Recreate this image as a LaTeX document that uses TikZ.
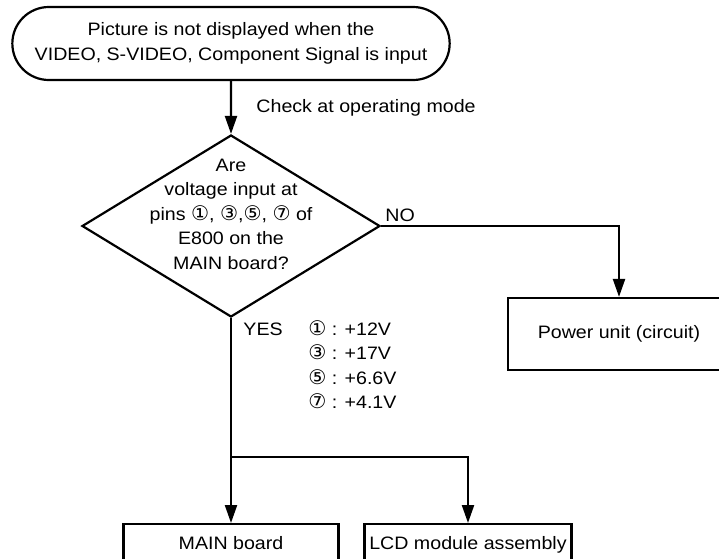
\documentclass[tikz,border=0pt]{standalone}
\usepackage{fontspec}
\setmainfont{Liberation Sans}[FakeStretch=1.09]
\newfontfamily\circfont{DejaVu Sans}[Scale=1.12]
\newcommand{\pin}[1]{{\circfont #1}}
\usetikzlibrary{arrows.meta,shapes.geometric,shapes.misc,positioning}

\begin{document}
\begin{tikzpicture}[x=1pt, y=-1pt, line width=2.2pt,
    >={Triangle[length=18pt,width=12pt]},
    font=\fontsize{18}{24.5}\selectfont,
    term/.style={rounded rectangle, draw, minimum width=444pt, minimum height=73pt, align=center},
    decision/.style={diamond, draw, minimum width=298pt, minimum height=182pt, inner sep=0pt},
    box/.style={rectangle, draw},
    lowbox/.style={rectangle, draw, anchor=north, text height=12pt, text depth=14pt, inner ysep=13pt}]
\clip (0,0) rectangle (719,558);
\useasboundingbox (0,0) rectangle (719,558);

\node[term] (start) at (231,43.5) {Picture is not displayed when the\\VIDEO, S-VIDEO, Component Signal is input};
\node[decision] (check) at (231,226) {};
\node[align=center] (ask) at (231,214) {Are\\voltage input at\\pins \pin{①}, \pin{③},\pin{⑤}, \pin{⑦} of\\E800 on the\\MAIN board?};
\node[anchor=west] (mode) at (252,108) {Check at operating mode};
\node[box, minimum width=222pt, minimum height=72pt] (power) at (619,334) {Power unit (circuit)};
\node[lowbox, minimum width=215pt] (main) at (231,523) {MAIN board};
\node[lowbox, minimum width=207pt] (lcd) at (468,523) {LCD module assembly};
\node[anchor=west] (no) at (381,215) {NO};
\node[anchor=west] (yes) at (239,329) {YES};
\node[anchor=north west, align=left] (volts) at (304,316)
  {\pin{①} : +12V\\\pin{③} : +17V\\\pin{⑤} : +6.6V\\\pin{⑦} : +4.1V};
\coordinate (split) at (231,457);

\draw[->] (start) -- (check);
\draw[->] (check.east) -| (power.north);
\draw (check.south) -- (split);
\draw[->] (split) -- (main);
\draw[->] (split) -| (lcd.north);
\end{tikzpicture}
\end{document}
